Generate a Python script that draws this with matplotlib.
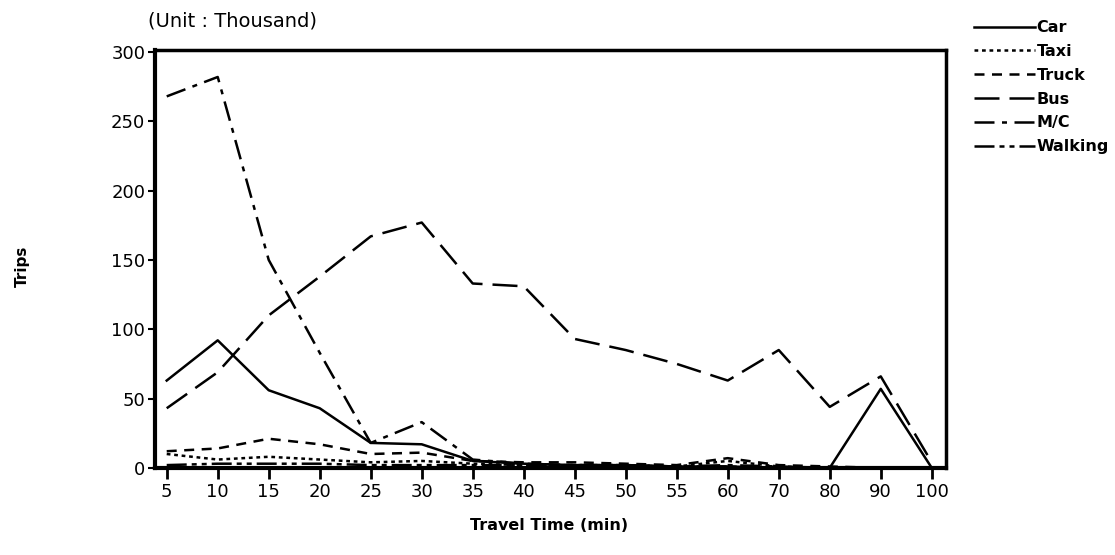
import matplotlib.pyplot as plt

# travel time classes (min) and trips by mode (thousand)
times = ["5", "10", "15", "20", "25", "30", "35", "40", "45", "50",
         "55", "60", "70", "80", "90", "100"]
car = [63, 92, 56, 43, 18, 17, 5, 3, 2, 2, 1, 1, 0, 0, 57, 0]
taxi = [10, 6, 8, 6, 4, 5, 3, 2, 2, 2, 1, 5, 1, 0, 0, 0]
truck = [12, 14, 21, 17, 10, 11, 5, 4, 4, 3, 2, 7, 2, 1, 0, 0]
bus = [43, 69, 110, 138, 167, 177, 133, 131, 93, 85, 75, 63, 85, 44, 66, 4]
mc = [268, 282, 150, 83, 18, 33, 6, 3, 2, 2, 1, 2, 1, 0, 0, 0]
walking = [2, 3, 3, 3, 2, 2, 2, 2, 1, 1, 1, 1, 0, 0, 0, 0]

modes = ["Car", "Taxi", "Truck", "Bus", "M/C", "Walking"]
series = [car, taxi, truck, bus, mc, walking]
styles = ["-", (0, (1.5, 1.5)), (0, (4, 3)), (0, (10, 4)),
          (0, (8, 3, 2, 3)), (0, (8, 2, 2, 2, 2, 2))]


def plot():
    fig = plt.figure(figsize=(11.15, 5.55), dpi=100)
    ax = fig.add_axes([0.139, 0.157, 0.709, 0.753])

    x = range(len(times))
    lines = []
    for values, style, name in zip(series, styles, modes):
        line, = ax.plot(x, values, color="black", linestyle=style,
                        linewidth=1.8, label=name)
        lines.append(line)

    ax.set_xlim(-0.23, 15.27)
    ax.set_ylim(0, 301.5)
    ax.set_xticks(list(x))
    ax.set_xticklabels(times)
    ax.set_yticks(range(0, 301, 50))
    ax.tick_params(axis="x", length=8, width=2, labelsize=13, pad=3)
    ax.tick_params(axis="y", length=5, width=1.5, labelsize=13, pad=2)

    for side in ["left", "bottom"]:
        ax.spines[side].set_linewidth(3)
    for side in ["top", "right"]:
        ax.spines[side].set_linewidth(2.5)

    fig.text(0.133, 0.963, "(Unit : Thousand)", fontsize=14,
             ha="left", va="center")
    fig.text(0.02, 0.52, "Trips", fontsize=11, rotation=90,
             ha="center", va="center", fontweight="bold")
    fig.text(0.492, 0.053, "Travel Time (min)", fontsize=11.5,
             ha="center", va="center", fontweight="bold")

    fig.legend(handles=lines, loc="upper left",
               bbox_to_anchor=(0.868, 0.975), frameon=False,
               prop={"size": 11.5, "weight": "bold"},
               handlelength=3.8, handletextpad=0.1,
               labelspacing=0.55, borderaxespad=0)

    fig.savefig("out.png")


if __name__ == "__main__":
    plot()
